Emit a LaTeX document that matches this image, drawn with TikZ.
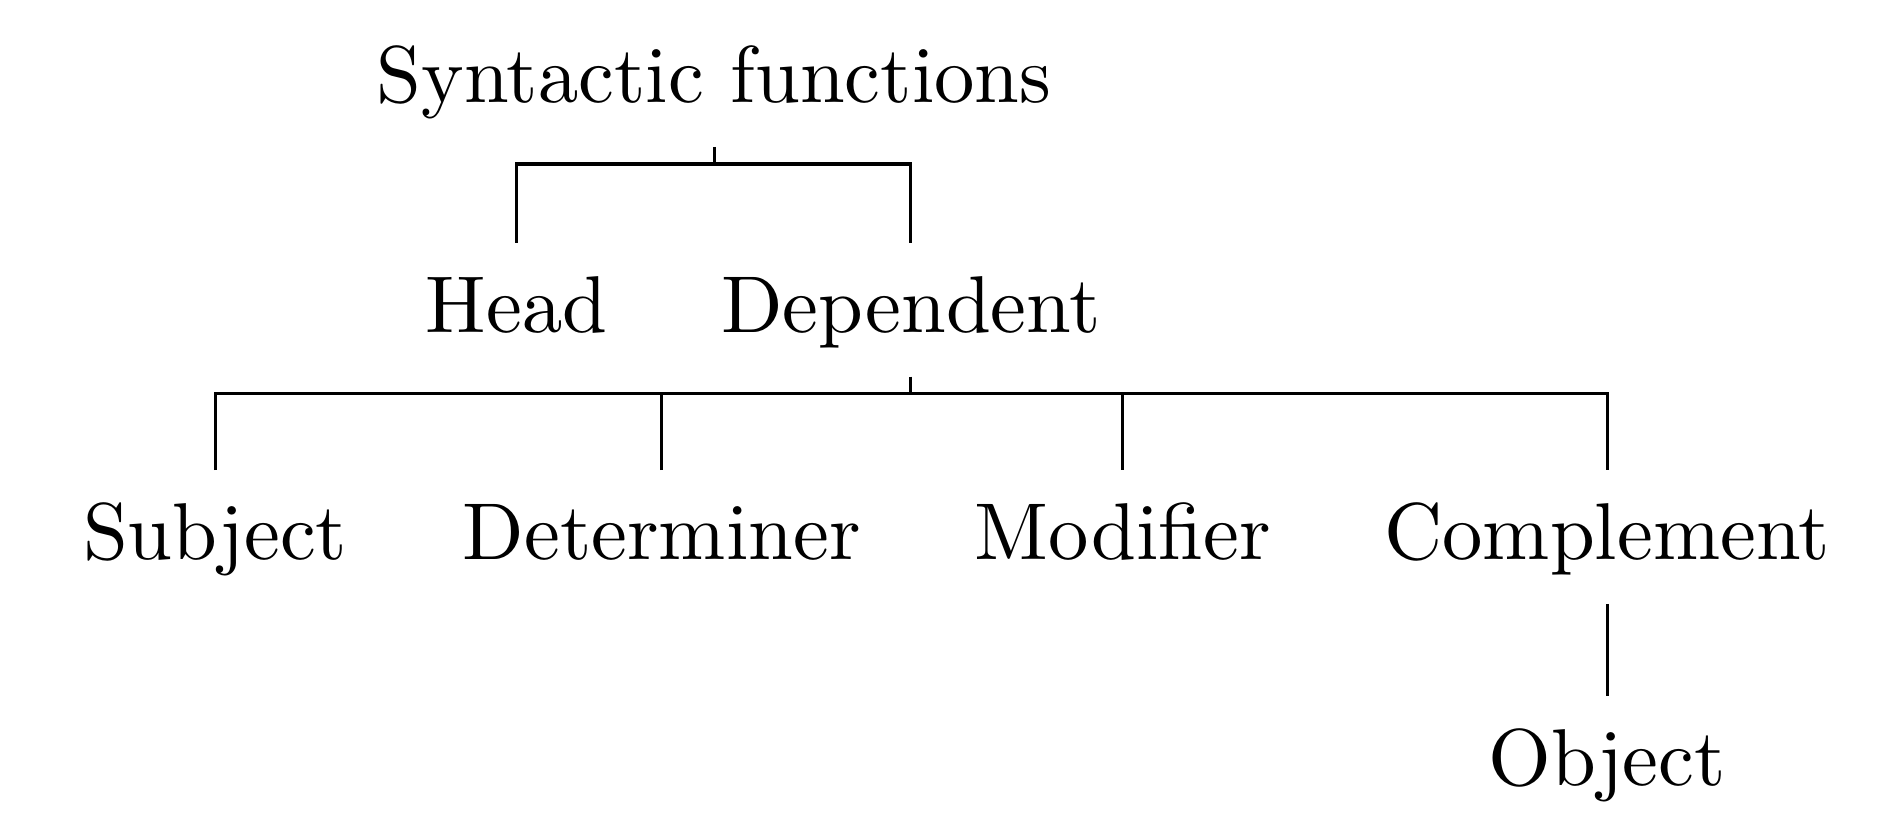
\documentclass[tikz,border=0pt]{standalone}
\begin{document}
\begin{tikzpicture}[x=1pt,y=1pt,
    lbl/.style={anchor=base,text height=7.6pt,text depth=1.94pt}]
  \useasboundingbox (0,0) rectangle (235.36,102.36);
  \node[lbl] (root) at (88.6,89.6) {Syntactic functions};
  \node[lbl] (head) at (64.1,61.1) {Head};
  \node[lbl] (dep) at (113.0,61.1) {Dependent};
  \node[lbl] (subj) at (26.7,32.9) {Subject};
  \node[lbl] (det) at (82.1,32.9) {Determiner};
  \node[lbl] (mod) at (139.3,32.9) {Modifier};
  \node[lbl] (comp) at (199.4,32.9) {Complement};
  \node[lbl] (obj) at (199.4,4.9) {Object};
  % brackets
  \draw (root.south) -- ++(0,-2.1) coordinate (rb);
  \draw (head.north) |- (rb) -| (dep.north);
  \draw (dep.south) -- ++(0,-2.1) coordinate (db);
  \draw (subj.north) |- (db) -| (comp.north);
  \draw (det.north) |- (db) -| (mod.north);
  \draw (comp.south) -- (obj.north);
\end{tikzpicture}
\end{document}
